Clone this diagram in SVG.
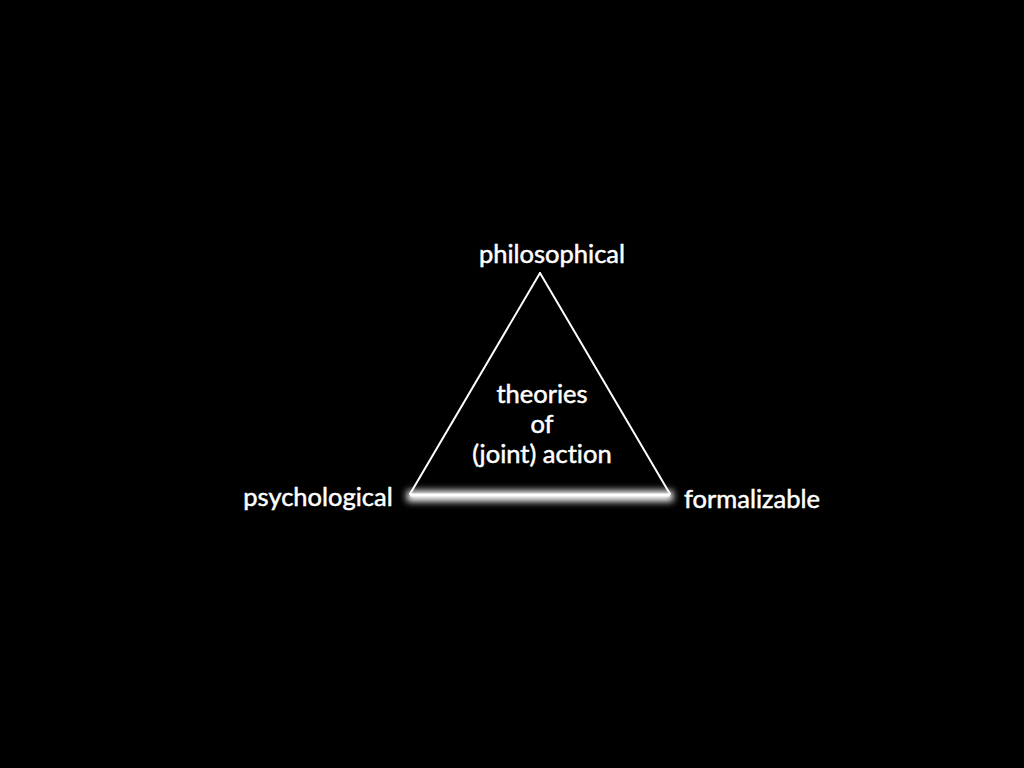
<svg xmlns="http://www.w3.org/2000/svg" width="1024" height="768" viewBox="0 0 1024 768">
<defs>
<style>
text{font-family:Lato,"Open Sans","Liberation Sans",sans-serif;font-size:25.5px;fill:#fff;stroke:#fff;stroke-width:0.5;font-variant-ligatures:none}
.edge{stroke:#fff;stroke-width:2;fill:none;stroke-linecap:round}
</style>
<filter id="glow" filterUnits="userSpaceOnUse" x="380" y="460" width="320" height="70">
<feGaussianBlur stdDeviation="3.5"/>
</filter>
</defs>
<rect width="1024" height="768" fill="#000"/>
<g id="connectors">
<line class="edge" x1="540" y1="273" x2="410" y2="494"/>
<line class="edge" x1="540" y1="273" x2="670" y2="494"/>
<line x1="407" y1="496" x2="673" y2="496" stroke="#fff" stroke-width="11" filter="url(#glow)"/>
<line x1="410" y1="495" x2="670" y2="495" stroke="#fff" stroke-width="3"/>
</g>
<g id="node-philosophical"><text x="552" y="263" text-anchor="middle">philosophical</text></g>
<g id="node-psychological"><text x="318" y="506" text-anchor="middle">psychological</text></g>
<g id="node-formalizable"><text x="752" y="508" text-anchor="middle">formalizable</text></g>
<g id="node-center">
<text x="542" y="403" text-anchor="middle">theories</text>
<text x="542" y="433" text-anchor="middle">of</text>
<text x="542" y="463" text-anchor="middle">(joint) action</text>
</g>
</svg>
